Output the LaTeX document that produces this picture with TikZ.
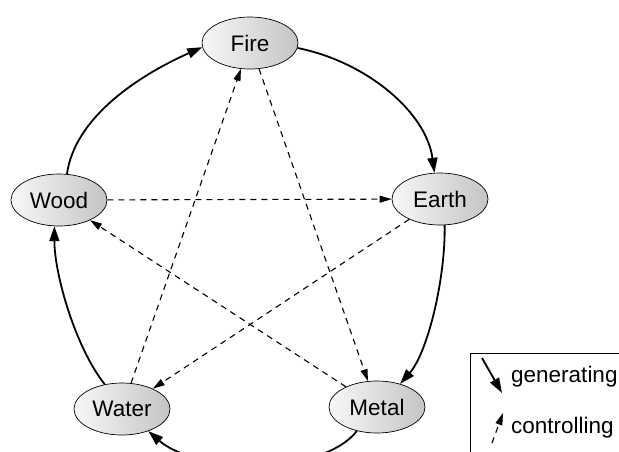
\documentclass[tikz,border=0pt]{standalone}
\usepackage{fontspec}
\setmainfont{Liberation Sans}
\usetikzlibrary{shapes.geometric,arrows.meta}
\tikzset{
  element/.style={ellipse, draw=black, line width=0.7pt, minimum width=96pt, minimum height=52pt, inner sep=0pt,
    left color=black!3, right color=black!23, font=\fontsize{22.5}{26}\selectfont},
  gen/.style={line width=1.8pt, -{Triangle[length=15pt,width=10pt]}},
  ctrl/.style={line width=1.1pt, dash pattern=on 6pt off 5pt, -{Triangle[length=12pt,width=7pt]}},
  legtext/.style={anchor=west, font=\fontsize{22.5}{26}\selectfont, inner sep=0pt},
}
\begin{document}
\begin{tikzpicture}[x=1pt,y=-1pt]
\useasboundingbox (0,0) rectangle (619,451);
\clip (0,0) rectangle (619,451);
\node[element] (fire)  at (250,43)  {Fire};
\node[element] (wood)  at (59,200)  {Wood};
\node[element] (earth) at (440,199) {Earth};
\node[element] (water) at (122,409) {Water};
\node[element] (metal) at (377,407) {Metal};

% generating cycle
\draw[gen] (wood.73) .. controls +(8,-57) and +(-63,28) .. (fire.185);
\draw[gen] (fire.-6) .. controls +(70,14) and +(-8,-60) .. (earth.102);
\draw[gen] (earth.-80) .. controls +(1,52) and +(28,-32) .. (metal.45);
\draw[gen] (metal.-130) .. controls +(-35,45) and +(48,42) .. (water.-40);
\draw[gen] (water.125) .. controls +(-30,-38) and +(0,47) .. (wood.-100);

% controlling star
\draw[ctrl] (fire) -- (metal);
\draw[ctrl] (metal) -- (wood);
\draw[ctrl] (wood) -- (earth);
\draw[ctrl] (earth) -- (water);
\draw[ctrl] (water) -- (fire);

% legend
\draw[line width=0.7pt] (470,353) rectangle (640,480);
\coordinate (g1) at (482,358);
\coordinate (g2) at (502,393);
\coordinate (c1) at (492,443);
\coordinate (c2) at (503,413);
\draw[gen] (g1) -- (g2);
\draw[ctrl] (c1) -- (c2);
\node[legtext] (lgen) at (511,377) {generating};
\node[legtext] (lctrl) at (511,428) {controlling};
\end{tikzpicture}
\end{document}
